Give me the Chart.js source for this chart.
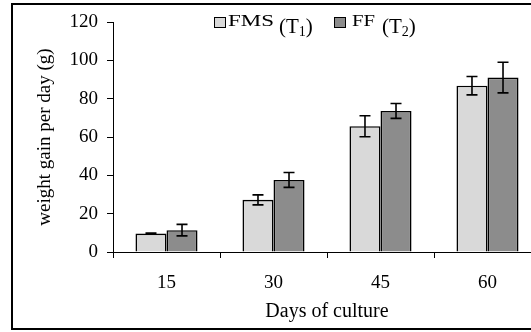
<!DOCTYPE html>
<html>
<head>
<meta charset="utf-8">
<script src="https://cdn.jsdelivr.net/npm/chart.js@4"></script>
<style>
html,body{margin:0;padding:0;overflow:hidden;background:#fff;width:531px;height:332px;}
#frame{position:absolute;left:11px;top:3px;width:560px;height:323px;border:2px solid #000;box-sizing:content-box;}
#wrap{position:absolute;left:0;top:0;width:560px;height:332px;}
</style>
</head>
<body>
<div id="frame"></div>
<div id="wrap"><canvas id="c" width="560" height="332"></canvas></div>
<script>
const categories = ["15", "30", "45", "60"];
const fmsValues = [9.6, 27.2, 65.6, 86.8];
const fmsErrors = [0.3, 2.6, 5.5, 4.8];
const ffValues = [11.4, 37.6, 73.6, 91.0];
const ffErrors = [3.0, 3.9, 3.9, 8.0];
const yTicks = [0, 20, 40, 60, 80, 100, 120];

const FONT = '"Liberation Serif", "Times New Roman", serif';

const errorBars = {
  id: 'errorBars',
  afterDatasetsDraw(chart) {
    const ctx = chart.ctx;
    const y = chart.scales.y;
    ctx.save();
    ctx.strokeStyle = '#000';
    ctx.lineWidth = 1.6;
    chart.data.datasets.forEach((ds, i) => {
      const meta = chart.getDatasetMeta(i);
      meta.data.forEach((bar, j) => {
        const v = ds.data[j], e = ds.errors[j];
        const yt = y.getPixelForValue(v + e), yb = y.getPixelForValue(v - e);
        const x = bar.x, hw = 5.5;
        ctx.beginPath();
        ctx.moveTo(x, yt); ctx.lineTo(x, yb);
        ctx.moveTo(x - hw, yt); ctx.lineTo(x + hw, yt);
        ctx.moveTo(x - hw, yb); ctx.lineTo(x + hw, yb);
        ctx.stroke();
      });
    });
    ctx.restore();
  }
};

const customLegend = {
  id: 'customLegend',
  afterDraw(chart) {
    const ctx = chart.ctx;
    ctx.save();
    ctx.textBaseline = 'alphabetic';
    ctx.textAlign = 'left';
    ctx.fillStyle = '#000';
    const items = [
      {box: 214, name: 'FMS', nameX: 228, nameW: 46, paren: 279, sub: '1', color: chart.data.datasets[0].backgroundColor},
      {box: 334, name: 'FF', nameX: 352, nameW: 23, paren: 382, sub: '2', color: chart.data.datasets[1].backgroundColor}
    ];
    items.forEach(it => {
      ctx.fillStyle = it.color;
      ctx.fillRect(it.box, 17, 11, 10);
      ctx.strokeStyle = '#000';
      ctx.lineWidth = 1;
      ctx.strokeRect(it.box + 0.5, 17.5, 11, 10);
      ctx.fillStyle = '#000';
      ctx.font = '17px ' + FONT;
      const w = ctx.measureText(it.name).width;
      ctx.save();
      ctx.translate(it.nameX, 26);
      ctx.scale(it.nameW / w, 1);
      ctx.fillText(it.name, 0, 0);
      ctx.restore();
      ctx.font = '21px ' + FONT;
      let x = it.paren;
      ctx.fillText('(T', x, 33);
      x += ctx.measureText('(T').width;
      ctx.font = '14px ' + FONT;
      ctx.fillText(it.sub, x, 36);
      x += ctx.measureText(it.sub).width;
      ctx.font = '21px ' + FONT;
      ctx.fillText(')', x, 33);
    });
    ctx.restore();
  }
};

new Chart(document.getElementById('c'), {
  type: 'bar',
  data: {
    labels: categories,
    datasets: [
      {label: 'FMS(T1)', data: fmsValues, errors: fmsErrors, backgroundColor: '#d9d9d9', borderColor: '#000', borderWidth: 1.6, categoryPercentage: 0.58, barPercentage: 1.0},
      {label: 'FF (T2)', data: ffValues, errors: ffErrors, backgroundColor: '#8c8c8c', borderColor: '#000', borderWidth: 1.6, categoryPercentage: 0.58, barPercentage: 1.0}
    ]
  },
  options: {
    responsive: false,
    animation: false,
    events: [],
    layout: {padding: {left: 0, top: 22, right: 19, bottom: 0}},
    plugins: {legend: {display: false}, tooltip: {enabled: false}},
    scales: {
      x: {
        grid: {display: true, drawOnChartArea: false, drawTicks: true, tickLength: 6, color: '#000', offset: true},
        border: {display: true, color: '#000', width: 1},
        ticks: {color: '#000', font: {family: FONT, size: 19}, padding: 14, maxRotation: 0},
        title: {display: true, text: 'Days of culture', color: '#000', font: {family: FONT, size: 20}, padding: {top: 0, bottom: 8}},
        afterFit(s) { s.height = 80; }
      },
      y: {
        min: 0, max: 120,
        afterBuildTicks(s) { s.ticks = yTicks.map(v => ({value: v})); },
        grid: {display: true, drawOnChartArea: false, drawTicks: true, tickLength: 6, color: '#000'},
        border: {display: true, color: '#000', width: 1},
        ticks: {color: '#000', font: {family: FONT, size: 19}, padding: 9},
        title: {display: true, text: 'weight gain per day (g)', color: '#000', font: {family: FONT, size: 19}, padding: {top: 34, bottom: 0}},
        afterFit(s) { s.width = 113; }
      }
    }
  },
  plugins: [errorBars, customLegend]
});
</script>
</body>
</html>
